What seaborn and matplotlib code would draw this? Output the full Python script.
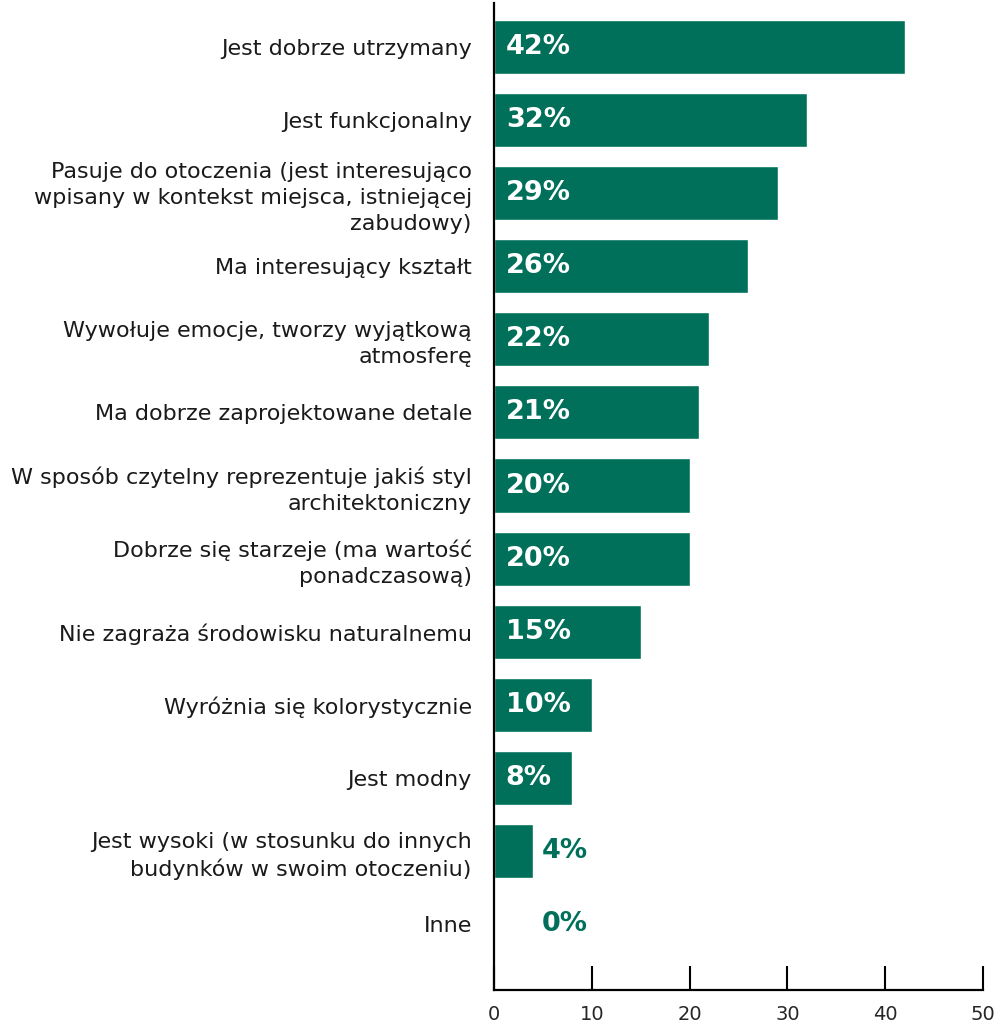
import matplotlib
matplotlib.use("Agg")
import matplotlib.pyplot as plt
import seaborn as sns
import pandas as pd

categories = [
    "Jest dobrze utrzymany",
    "Jest funkcjonalny",
    "Pasuje do otoczenia (jest interesująco\nwpisany w kontekst miejsca, istniejącej\nzabudowy)",
    "Ma interesujący kształt",
    "Wywołuje emocje, tworzy wyjątkową\natmosferę",
    "Ma dobrze zaprojektowane detale",
    "W sposób czytelny reprezentuje jakiś styl\narchitektoniczny",
    "Dobrze się starzeje (ma wartość\nponadczasową)",
    "Nie zagraża środowisku naturalnemu",
    "Wyróżnia się kolorystycznie",
    "Jest modny",
    "Jest wysoki (w stosunku do innych\nbudynków w swoim otoczeniu)",
    "Inne",
]
values = [42, 32, 29, 26, 22, 21, 20, 20, 15, 10, 8, 4, 0]
x_ticks = [0, 10, 20, 30, 40, 50]

GREEN = "#00705A"

sns.set_theme(style="white")
plt.rcParams["font.family"] = ["DejaVu Sans"]

df = pd.DataFrame({"cat": categories, "val": values})

fig = plt.figure(figsize=(9.95, 10.23), dpi=100)
ax = fig.add_axes([0.4965, 0.0323, 0.4915, 0.9647])

sns.barplot(data=df, y="cat", x="val", color=GREEN, saturation=1,
            width=0.74, orient="h", ax=ax)

ax.set_xlim(0, 50)
ax.set_ylim(12.9, -0.6)
ax.set_xticks(x_ticks)
ax.set_xticklabels([str(t) for t in x_ticks], fontsize=14)
ax.set_xlabel("")
ax.set_ylabel("")

for i, v in enumerate(values):
    if v >= 8:
        ax.text(1.2, i, f"{v}%", va="center", ha="left", color="white",
                fontsize=19.5, fontweight="bold")
    else:
        ax.text(4.9, i, f"{v}%", va="center", ha="left", color=GREEN,
                fontsize=19.5, fontweight="bold")

for lbl in ax.get_yticklabels():
    lbl.set_fontsize(16)
    lbl.set_linespacing(1.35)
    lbl.set_color("#1a1a1a")

sns.despine(ax=ax, top=True, right=True)
for s in ["left", "bottom"]:
    ax.spines[s].set_color("black")
    ax.spines[s].set_linewidth(1.6)

ax.tick_params(axis="x", direction="in", length=17, width=1.5, color="black",
               pad=11, bottom=True)
ax.tick_params(axis="y", length=0, pad=16)

fig.savefig("out.png", dpi=100)
